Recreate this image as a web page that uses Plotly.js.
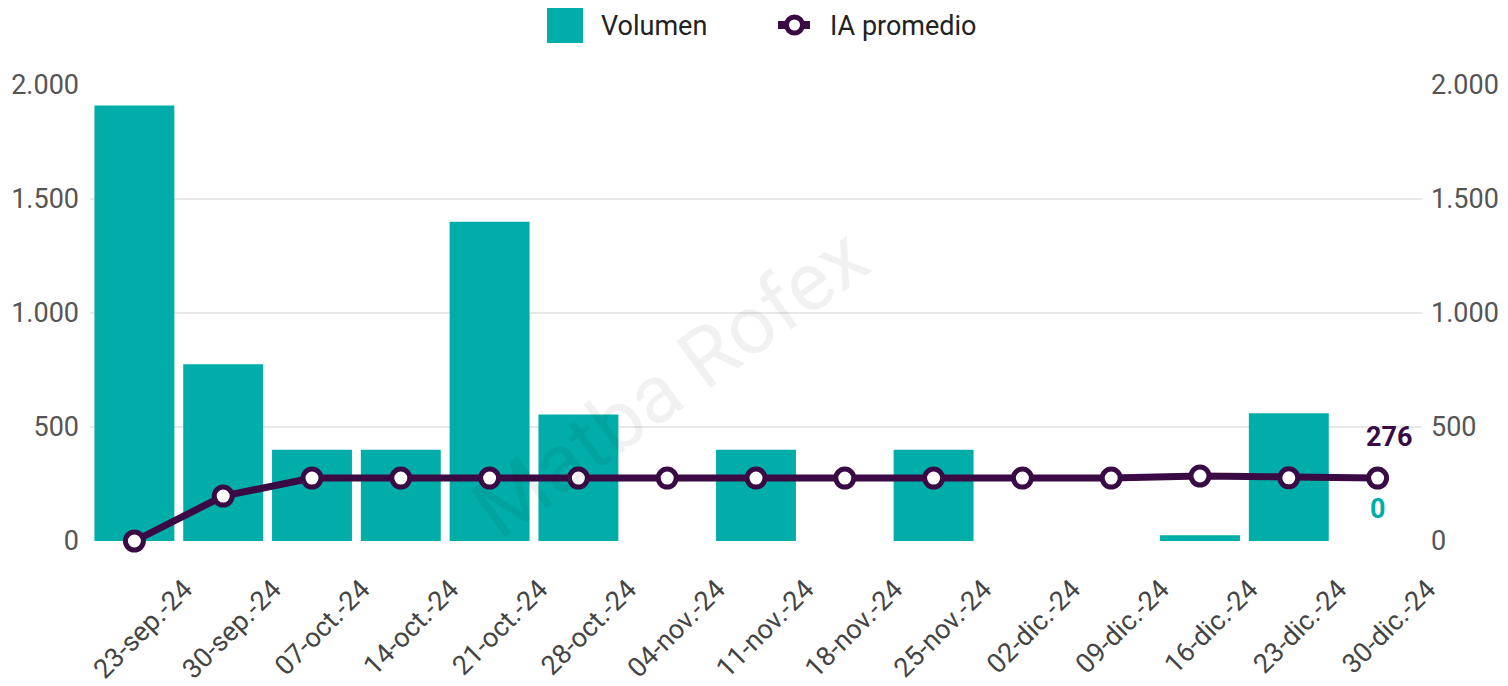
<!DOCTYPE html>
<html>
<head>
<meta charset="utf-8">
<script src="https://cdn.plot.ly/plotly-3.0.1.min.js"></script>
<style>html,body{margin:0;padding:0;background:#fff;}#chart{width:1508px;height:686px;}</style>
</head>
<body>
<div id="chart"></div>
<script>
const categories = ["23-sep.-24","30-sep.-24","07-oct.-24","14-oct.-24","21-oct.-24","28-oct.-24","04-nov.-24","11-nov.-24","18-nov.-24","25-nov.-24","02-dic.-24","09-dic.-24","16-dic.-24","23-dic.-24","30-dic.-24"];
const volumen = [1910, 775, 400, 400, 1400, 555, 0, 400, 0, 400, 0, 0, 25, 560, 0];
const iaPromedio = [0, 197, 276, 276, 276, 276, 276, 276, 276, 276, 276, 276, 285, 277, 276];
const yTicks = [0, 500, 1000, 1500, 2000];
const seriesNames = ["Volumen", "IA promedio"];

const teal = "#00ADA8";
const purple = "#3A0A45";
const font = "Roboto, 'Noto Sans', sans-serif";

const traces = [
  {
    type: "bar", name: seriesNames[0], x: categories, y: volumen,
    marker: {color: teal}, yaxis: "y", showlegend: false
  },
  {
    type: "scatter", mode: "lines+markers", name: seriesNames[1], x: categories, y: iaPromedio,
    yaxis: "y2", cliponaxis: false, showlegend: false,
    line: {color: purple, width: 7},
    marker: {color: "#ffffff", size: 18, line: {color: purple, width: 5}}
  }
];

// plot area in pixels: x 90..1422, y 85..541
const L = 90, R = 86, T = 85, B = 145, W = 1508, H = 686;
const pw = W - L - R, ph = H - T - B;
const px = v => (v - L) / pw;
const py = v => (H - B - v) / ph;

const last = categories.length - 1;
const layout = {
  width: W, height: H,
  margin: {l: L, r: R, t: T, b: B},
  paper_bgcolor: "#fff", plot_bgcolor: "#fff",
  separators: ",.",
  font: {family: font, color: "#555", size: 22},
  bargap: 0.1,
  showlegend: false,
  xaxis: {
    type: "category", range: [-0.5, categories.length - 0.5], automargin: false,
    tickangle: -45, showgrid: false, zeroline: false, showline: false,
    ticks: "", tickfont: {size: 27, color: "#444", family: font},
    ticklabelshift: 50, ticklabelstandoff: 26
  },
  yaxis: {
    range: [0, 2000], tickvals: yTicks, tickformat: ",d", showgrid: true, gridcolor: "#e8e8e8",
    gridwidth: 1.5, zeroline: false, showline: false, ticks: "", ticklabelstandoff: 10, automargin: false,
    tickfont: {size: 27, color: "#555", family: font}
  },
  yaxis2: {
    range: [0, 2000], tickvals: yTicks, tickformat: ",d", overlaying: "y", side: "right",
    showgrid: false, zeroline: false, showline: false, ticks: "", ticklabelstandoff: 8, automargin: false,
    tickfont: {size: 27, color: "#555", family: font}
  },
  shapes: [
    {type: "rect", xref: "paper", yref: "paper", x0: px(547), x1: px(583), y0: py(43), y1: py(8),
     fillcolor: teal, line: {width: 0}},
    {type: "line", xref: "paper", yref: "paper", x0: px(778), x1: px(810), y0: py(25), y1: py(25),
     line: {color: purple, width: 8}},
    {type: "circle", xref: "paper", yref: "paper", x0: px(786.5), x1: px(802.5), y0: py(33), y1: py(17),
     fillcolor: "#fff", line: {color: purple, width: 5}}
  ],
  annotations: [
    {text: seriesNames[0], x: px(599), y: py(26), xref: "paper", yref: "paper", xanchor: "left", yanchor: "middle",
     showarrow: false, font: {size: 27, color: "#222", family: font}},
    {text: seriesNames[1], x: px(828), y: py(26), xref: "paper", yref: "paper", xanchor: "left", yanchor: "middle",
     showarrow: false, font: {size: 27, color: "#222", family: font}},
    {text: "Matba Rofex", x: px(670), y: py(383), xref: "paper", yref: "paper", showarrow: false,
     textangle: -36, font: {size: 82, color: "rgba(0,0,0,0.055)", family: font}},
    {text: "<b>" + iaPromedio[last] + "</b>", x: categories[last], y: iaPromedio[last], xref: "x", yref: "y2",
     showarrow: false, yshift: 41, xshift: 11, font: {size: 27, color: purple, family: font}},
    {text: "<b>" + volumen[last] + "</b>", x: categories[last], y: volumen[last], xref: "x", yref: "y",
     showarrow: false, yshift: 32, font: {size: 27, color: teal, family: font}}
  ]
};

Plotly.newPlot("chart", traces, layout, {displayModeBar: false, staticPlot: true});
</script>
</body>
</html>
